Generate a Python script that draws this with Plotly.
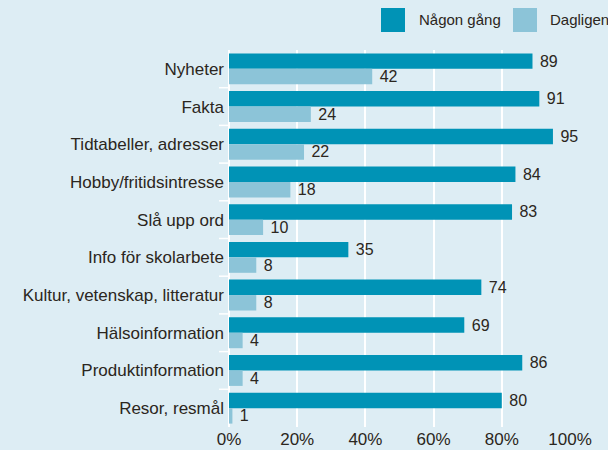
import plotly.graph_objects as go

categories = ["Nyheter", "Fakta", "Tidtabeller, adresser", "Hobby/fritidsintresse",
              "Slå upp ord", "Info för skolarbete", "Kultur, vetenskap, litteratur",
              "Hälsoinformation", "Produktinformation", "Resor, resmål"]
nagon_gang = [89, 91, 95, 84, 83, 35, 74, 69, 86, 80]
dagligen = [42, 24, 22, 18, 10, 8, 8, 4, 4, 1]
series_names = ["Någon gång", "Dagligen"]
x_ticks = [0, 20, 40, 60, 80, 100]
x_ticklabels = ["0%", "20%", "40%", "60%", "80%", "100%"]

DARK = "#0093b6"
LIGHT = "#8cc4d8"
BG = "#ddedf4"
TXT = "#2b2620"
FONT = "Liberation Sans, Arial, sans-serif"

L, R, T, B = 229, 38, 50, 23
PW, PH = 608 - L - R, 450 - T - B

fig = go.Figure()
for name, vals, col in [(series_names[0], nagon_gang, DARK), (series_names[1], dagligen, LIGHT)]:
    fig.add_trace(go.Bar(
        y=categories, x=vals, name=name, orientation="h",
        marker=dict(color=col, line=dict(width=0)),
        text=[str(v) for v in vals], texttemplate=" %{text}", textposition="outside",
        constraintext="none", cliponaxis=False,
        textfont=dict(size=16, color=TXT, family=FONT),
        showlegend=False, hoverinfo="skip",
    ))

fig.update_layout(
    width=608, height=450,
    margin=dict(l=L, r=R, t=T, b=B, autoexpand=False),
    paper_bgcolor=BG, plot_bgcolor=BG,
    barmode="group", bargap=0.18, bargroupgap=0,
    font=dict(family=FONT, color=TXT, size=17),
    xaxis=dict(range=[0, 100], tickvals=x_ticks, ticktext=x_ticklabels,
               showgrid=True, gridcolor="white", gridwidth=1.5,
               zeroline=True, zerolinecolor="white", zerolinewidth=2,
               ticks="", tickfont=dict(size=17), fixedrange=True, automargin=False),
    yaxis=dict(autorange="reversed", type="category", showgrid=False,
               ticks="", ticklabelstandoff=4,
               tickfont=dict(size=17), showline=False, fixedrange=True, automargin=False),
)

# category boundary tick marks
for i in range(len(categories) - 1):
    fig.add_shape(type="line", xref="paper", yref="y",
                  x0=-10 / PW, x1=0, y0=i + 0.5, y1=i + 0.5,
                  line=dict(color="white", width=1.5))

# legend drawn manually
leg = [(381, 405, 417, series_names[0], DARK), (513, 537, 548, series_names[1], LIGHT)]
for x0, x1, tx, label, col in leg:
    fig.add_shape(type="rect", xref="paper", yref="paper",
                  x0=(x0 - L) / PW, x1=(x1 - L) / PW,
                  y0=(450 - B - 32) / PH, y1=(450 - B - 8) / PH,
                  fillcolor=col, line=dict(width=0))
    fig.add_annotation(xref="paper", yref="paper", x=(tx - L) / PW,
                       y=(450 - B - 20) / PH, text=label, showarrow=False,
                       xanchor="left", yanchor="middle",
                       font=dict(size=15, color=TXT, family=FONT))

fig.write_html("out.html", config={"displayModeBar": False})
with open("out.html", encoding="utf-8") as f:
    html = f.read()
html = html.replace("<body>", '<body style="margin:0;padding:0;overflow:hidden">', 1)
with open("out.html", "w", encoding="utf-8") as f:
    f.write(html)
